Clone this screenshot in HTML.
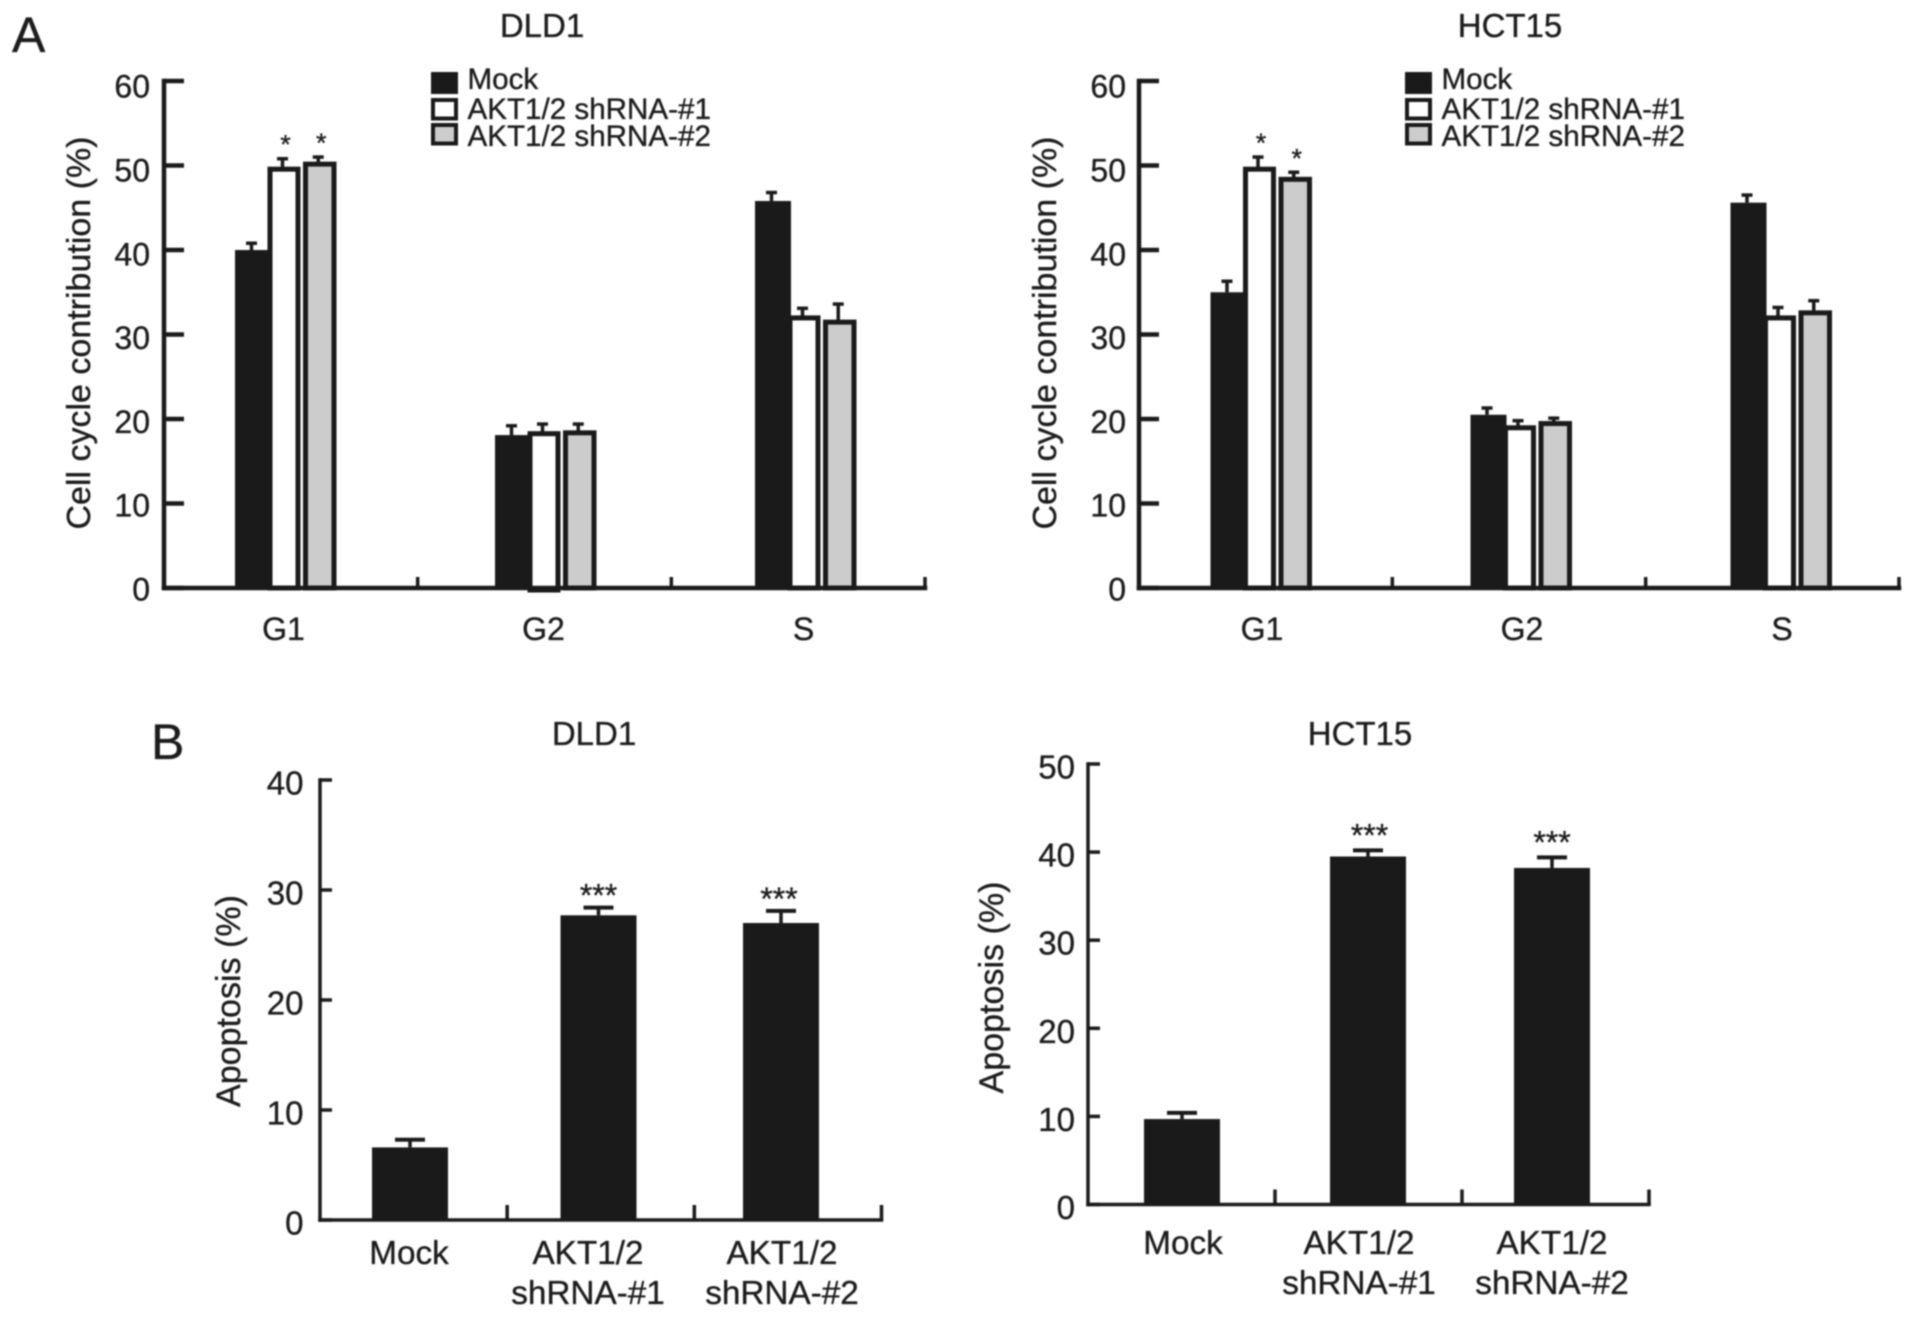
<!DOCTYPE html>
<html lang="en">
<head>
<meta charset="utf-8">
<title>Cell cycle and apoptosis charts</title>
<style>
html,body{margin:0;padding:0;background:#fff;width:1913px;height:1318px;overflow:hidden}
svg{display:block;filter:blur(0.7px)}
text{font-family:"Liberation Sans",sans-serif;fill:#1c1c1c;stroke:#1c1c1c;stroke-width:0.35px}
</style>
</head>
<body>
<svg id="figure" xmlns="http://www.w3.org/2000/svg" width="1913" height="1318" viewBox="0 0 1913 1318"></svg>
<script>
// ---- Data ----
const cyclePhases = ['G1', 'G2', 'S'];
const cycleTicks = [0, 10, 20, 30, 40, 50, 60];
const seriesNames = ['Mock', 'AKT1/2 shRNA-#1', 'AKT1/2 shRNA-#2'];

const dld1CycleMock = [40, 18.1, 45.8];
const dld1CycleSh1 = [49.8, 18.5, 32.2];
const dld1CycleSh2 = [50.4, 18.6, 31.7];
const dld1CycleMockErr = [0.8, 1.1, 1.0];
const dld1CycleSh1Err = [1.0, 0.9, 0.9];
const dld1CycleSh2Err = [0.6, 0.8, 1.9];
const dld1CycleSh1Stars = ['*', '', ''];
const dld1CycleSh2Stars = ['*', '', ''];

const hct15CycleMock = [35, 20.5, 45.6];
const hct15CycleSh1 = [49.8, 19.2, 32.2];
const hct15CycleSh2 = [48.6, 19.7, 32.8];
const hct15CycleMockErr = [1.3, 0.8, 0.9];
const hct15CycleSh1Err = [1.2, 0.6, 1.0];
const hct15CycleSh2Err = [0.6, 0.4, 1.2];
const hct15CycleSh1Stars = ['*', '', ''];
const hct15CycleSh2Stars = ['*', '', ''];

const apoptosisGroups = [['Mock'], ['AKT1/2', 'shRNA-#1'], ['AKT1/2', 'shRNA-#2']];

const dld1ApoptosisTicks = [0, 10, 20, 30, 40];
const dld1Apoptosis = [6.6, 27.7, 27.0];
const dld1ApoptosisErr = [0.7, 0.7, 1.1];
const dld1ApoptosisStars = ['', '***', '***'];

const hct15ApoptosisTicks = [0, 10, 20, 30, 40, 50];
const hct15Apoptosis = [9.7, 39.5, 38.2];
const hct15ApoptosisErr = [0.7, 0.7, 1.2];
const hct15ApoptosisStars = ['', '***', '***'];

// ---- Drawing helpers ----
const svg = document.getElementById('figure');
const NS = 'http://www.w3.org/2000/svg';
const INK = '#1a1a1a';

function group(parent, name) {
  const el = document.createElementNS(NS, 'g');
  
  
  parent.appendChild(el);
  return el;
}
function rect(parent, name, x, y, w, h, fill, stroke, sw) {
  const el = document.createElementNS(NS, 'rect');
  
  
  el.setAttribute('x', x);
  el.setAttribute('y', y);
  el.setAttribute('width', w);
  el.setAttribute('height', h);
  el.setAttribute('fill', fill);
  if (stroke) { el.setAttribute('stroke', stroke); el.setAttribute('stroke-width', sw); }
  parent.appendChild(el);
  return el;
}
function label(parent, name, str, x, y, size, anchor, rotate, fit) {
  const el = document.createElementNS(NS, 'text');
  
  
  el.setAttribute('x', x);
  el.setAttribute('y', y);
  el.setAttribute('font-size', size);
  el.setAttribute('text-anchor', anchor || 'middle');
  if (rotate) el.setAttribute('transform', 'rotate(-90 ' + x + ' ' + y + ')');
  if (fit) { el.setAttribute('textLength', fit); el.setAttribute('lengthAdjust', 'spacingAndGlyphs'); }
  el.textContent = str;
  parent.appendChild(el);
  return el;
}
function yAxis(parent, c, yScale, ticks) {
  const g = group(parent, 'y-axis');
  const top = yScale(ticks[ticks.length - 1]);
  rect(g, 'y-axis-line', c.axisX - c.lw / 2, top - c.lw / 2, c.lw, c.y0 - top + c.lw, INK);
  ticks.forEach(function (v) {
    rect(g, 'y-tick-' + v, c.axisX, yScale(v) - c.lw / 2, c.tickLen, c.lw, INK);
    label(g, 'y-tick-label-' + v, String(v), c.labelRight, yScale(v) + c.labelDrop + c.labelSlope * v, c.font, 'end');
  });
  label(g, 'y-axis-title', c.yTitle, c.titleX, c.titleMidY, c.font + 1, 'middle', true, c.titleLen);
}
function xAxis(parent, c) {
  const g = group(parent, 'x-axis');
  rect(g, 'x-axis-line', c.axisX - c.lw / 2, c.y0 - c.lw / 2, c.xEnd - c.axisX + c.lw, c.lw, INK);
  const band = (c.xEnd - c.axisX) / 3;
  for (let i = 1; i <= 3; i++) {
    rect(g, 'x-tick-' + i, c.axisX + band * i - 1.75, c.y0 - c.sepLen, 3.5, c.sepLen, INK);
  }
}
function errorBar(parent, name, cx, yBar, yTop, capW, capH) {
  const g = group(parent, name);
  rect(g, name + '-stem', cx - 1.75, yTop, 3.5, yBar - yTop, INK);
  rect(g, name + '-cap', cx - capW / 2, yTop - capH / 2, capW, capH, INK);
}

// ---- Grouped cell-cycle chart ----
function cycleChart(c) {
  const root = group(svg, c.name);
  const y = function (v) { return c.y0 - v * c.pxPerUnit; };
  label(root, 'chart-title', c.title, c.titleCx, 37, 33);
  yAxis(root, c, y, cycleTicks);

  const layouts = [
    { left: -50, width: 36, fill: INK },
    { left: -17.5, width: 33, fill: '#fff' },
    { left: 18, width: 33.5, fill: '#ccc' }
  ];
  const names = ['mock', 'shrna-1', 'shrna-2'];
  c.values.forEach(function (values, s) {
    const lay = layouts[s];
    const sg = group(root, 'series-' + names[s]);
    values.forEach(function (v, i) {
      const gx = c.groupStart + i * c.groupStep;
      const cx = gx + lay.left + lay.width / 2;
      const top = y(v + c.errs[s][i]);
      errorBar(sg, 'error-' + names[s] + '-' + cyclePhases[i], cx - 1.5, y(v), top, 11, 3.5);
      if (s === 0) {
        rect(sg, 'bar-' + names[s] + '-' + cyclePhases[i], gx + lay.left, y(v), lay.width, c.y0 - y(v), lay.fill);
      } else {
        const extra = (c.overshoot && s === 1 && i === 1) ? 2 : 0;
        rect(sg, 'bar-' + names[s] + '-' + cyclePhases[i], gx + lay.left + 2.5, y(v) + 2, lay.width - 5, c.y0 - y(v) - 2 + extra, lay.fill, INK, 5);
      }
      const star = c.stars[s] && c.stars[s][i];
      if (star) label(sg, 'significance-' + names[s] + '-' + cyclePhases[i], star, cx + 1.5, top - 18 + 13, 27);
    });
  });
  xAxis(root, c);
  cyclePhases.forEach(function (p, i) {
    label(root, 'x-label-' + p, p, c.groupStart + i * c.groupStep + c.catShift, 640, 32);
  });

  const lg = group(root, 'legend');
  const swatchFill = [INK, '#fff', '#ccc'];
  const swatchTop = [72, 98, 123];
  const legendBase = [89, 119, 146];
  seriesNames.forEach(function (n, i) {
    const e = group(lg, 'legend-entry-' + names[i]);
    if (i === 0) rect(e, 'legend-swatch', c.legendX, swatchTop[i], 27, 22, swatchFill[i]);
    else rect(e, 'legend-swatch', c.legendX + 2, swatchTop[i] + 2, 23, 18.5, swatchFill[i], INK, 4);
    label(e, 'legend-label', n, c.legendX + 36.5, legendBase[i], 29.6, 'start');
  });
}

// ---- Single-series apoptosis chart ----
function apoptosisChart(c) {
  const root = group(svg, c.name);
  const y = function (v) { return c.y0 - v * c.pxPerUnit; };
  label(root, 'chart-title', c.title, c.titleCx, 745, 33);
  yAxis(root, c, y, c.ticks);
  const sg = group(root, 'series-apoptosis');
  c.values.forEach(function (v, i) {
    const cx = c.barStart + i * c.barStep + c.barNudge[i];
    const top = y(v + c.errs[i]);
    errorBar(sg, 'error-' + i, cx, y(v), top, 30, 4);
    rect(sg, 'bar-' + i, cx - 38, y(v), 76, c.y0 - y(v), INK);
    if (c.stars[i]) label(sg, 'significance-' + i, c.stars[i], cx + c.starNudge[i], top + c.starLift, 32);
  });
  xAxis(root, c);
  apoptosisGroups.forEach(function (lines, i) {
    lines.forEach(function (ln, j) {
      label(root, 'x-label-' + i + '-' + j, ln, c.barStart + i * c.barStep + c.catNudge[i], c.catBase + j * 40, 33.3);
    });
  });
}

// ---- Panels ----
const cycleBase = { y0: 588, pxPerUnit: 8.45, lw: 4.5, tickLen: 20, sepLen: 11, labelDrop: 12.5, labelSlope: 0.07, font: 32, yTitle: 'Cell cycle contribution (%)', titleMidY: 333, titleLen: 393, groupStep: 260 };

label(svg, 'panel-label-a', 'A', 12, 52, 50, 'start');
label(svg, 'panel-label-b', 'B', 151, 759, 50, 'start');

cycleChart(Object.assign({}, cycleBase, {
  name: 'chart-dld1-cell-cycle', title: 'DLD1', titleCx: 542, axisX: 164, xEnd: 925, labelRight: 150, titleX: 90,
  groupStart: 285, catShift: -1.5, legendX: 431, overshoot: true,
  values: [dld1CycleMock, dld1CycleSh1, dld1CycleSh2],
  errs: [dld1CycleMockErr, dld1CycleSh1Err, dld1CycleSh2Err],
  stars: [null, dld1CycleSh1Stars, dld1CycleSh2Stars]
}));
cycleChart(Object.assign({}, cycleBase, {
  name: 'chart-hct15-cell-cycle', title: 'HCT15', titleCx: 1510, axisX: 1139, xEnd: 1899, labelRight: 1126, titleX: 1056,
  groupStart: 1260.5, catShift: 1.5, legendX: 1405, overshoot: false,
  values: [hct15CycleMock, hct15CycleSh1, hct15CycleSh2],
  errs: [hct15CycleMockErr, hct15CycleSh1Err, hct15CycleSh2Err],
  stars: [null, hct15CycleSh1Stars, hct15CycleSh2Stars]
}));

const apoptosisBase = { lw: 3.5, tickLen: 12, sepLen: 15, labelDrop: 14.5, labelSlope: 0, font: 33, yTitle: 'Apoptosis (%)', titleLen: 212 };

apoptosisChart(Object.assign({}, apoptosisBase, {
  name: 'chart-dld1-apoptosis', title: 'DLD1', titleCx: 594, axisX: 320, xEnd: 881.5, y0: 1220, pxPerUnit: 11,
  ticks: dld1ApoptosisTicks, labelRight: 303.5, titleX: 240, titleMidY: 1001,
  barStart: 410, barStep: 186, barNudge: [0, 2.5, -1], starNudge: [0, 0, -2], starLift: -1, catNudge: [-1, -8, 0], catBase: 1264,
  values: dld1Apoptosis, errs: dld1ApoptosisErr, stars: dld1ApoptosisStars
}));
apoptosisChart(Object.assign({}, apoptosisBase, {
  name: 'chart-hct15-apoptosis', title: 'HCT15', titleCx: 1378 - 18, axisX: 1088, xEnd: 1649, y0: 1204.5, pxPerUnit: 8.81,
  ticks: hct15ApoptosisTicks, labelRight: 1075, titleX: 1003, titleMidY: 987.5,
  barStart: 1182, barStep: 185, barNudge: [0, 1, 0], starNudge: [0, 1.5, 0], starLift: -4, catNudge: [1, -8, 0], catBase: 1254,
  values: hct15Apoptosis, errs: hct15ApoptosisErr, stars: hct15ApoptosisStars
}));
</script>
</body>
</html>
